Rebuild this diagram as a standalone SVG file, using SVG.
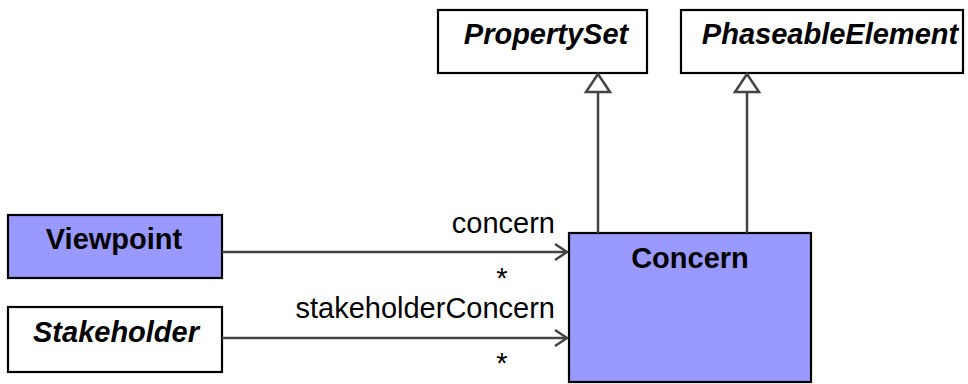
<svg xmlns="http://www.w3.org/2000/svg" width="968" height="384" viewBox="0 0 968 384">
<defs>
<style>
.box{stroke:#000;stroke-width:2.2}
.white{fill:#fff}
.blue{fill:#9999ff}
.t{font-family:"Liberation Sans",Arial,sans-serif;font-size:29px;fill:#000}
.b{font-weight:bold}
.i{font-style:italic}
.line{stroke:#444;stroke-width:2.5;fill:none}
.tri{stroke:#444;stroke-width:2.5;fill:#fff}
</style>
<marker id="open" markerWidth="16" markerHeight="20" refX="13" refY="9" orient="auto" markerUnits="userSpaceOnUse">
<path d="M1,1 L13,9 L1,17" fill="none" stroke="#444" stroke-width="2.5"/>
</marker>
</defs>
<rect width="968" height="384" fill="#fff"/>
<g id="PropertySet">
<rect class="box white" x="438" y="10" width="209" height="63"/>
<text class="t b i" x="546" y="44" text-anchor="middle">PropertySet</text>
</g>
<g id="PhaseableElement">
<rect class="box white" x="681" y="10" width="282" height="63"/>
<text class="t b i" x="830" y="44" text-anchor="middle">PhaseableElement</text>
</g>
<g id="Viewpoint">
<rect class="box blue" x="8" y="215" width="214" height="63"/>
<text class="t b" x="114" y="249" text-anchor="middle">Viewpoint</text>
</g>
<g id="Stakeholder">
<rect class="box white" x="8" y="307" width="214" height="65"/>
<text class="t b i" x="116" y="342" text-anchor="middle">Stakeholder</text>
</g>
<g id="Concern">
<rect class="box blue" x="569" y="233" width="242" height="149"/>
<text class="t b" x="690" y="268" text-anchor="middle">Concern</text>
</g>
<g id="connectors">
<line class="line" x1="598" y1="233" x2="598" y2="92"/>
<path class="tri" d="M598,74 L586,92 L610,92 Z"/>
<line class="line" x1="747" y1="233" x2="747" y2="92"/>
<path class="tri" d="M747,74 L735,92 L759,92 Z"/>
<line class="line" x1="222" y1="252" x2="567" y2="252" marker-end="url(#open)"/>
<text class="t" x="555" y="233" text-anchor="end">concern</text>
<text class="t" x="502" y="288" text-anchor="middle">*</text>
<line class="line" x1="222" y1="338" x2="567" y2="338" marker-end="url(#open)"/>
<text class="t" x="555" y="318" text-anchor="end">stakeholderConcern</text>
<text class="t" x="502" y="373" text-anchor="middle">*</text>
</g>
</svg>
